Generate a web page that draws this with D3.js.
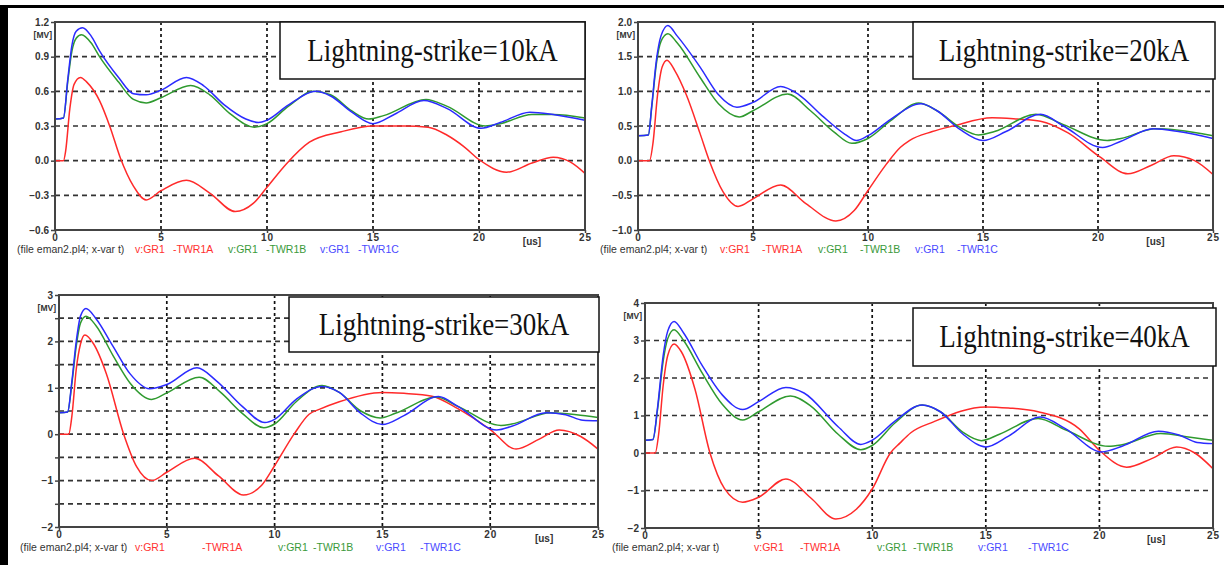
<!DOCTYPE html>
<html>
<head>
<meta charset="utf-8">
<script src="https://cdn.jsdelivr.net/npm/d3@7"></script>
<style>
  body { margin: 0; background: #fff; }
  svg { display: block; }
  .tick-label { font-family: "Liberation Sans", Arial, sans-serif; font-size: 10px; fill: #333; font-weight: bold; }
  .legend { font-family: "Liberation Sans", Arial, sans-serif; font-size: 10.5px; }
  .title { font-family: "Liberation Serif", "Times New Roman", serif; font-size: 27px; fill: #111; }
</style>
</head>
<body>
<svg id="chart" width="1224" height="565"></svg>
<script>
// time axis (us) and tick labels
const xTicks = [0, 5, 10, 15, 20, 25];
const titles = ["Lightning-strike=10kA", "Lightning-strike=20kA", "Lightning-strike=30kA", "Lightning-strike=40kA"];
const legendItems = ["(file eman2.pl4; x-var t)", "v:GR1", "-TWR1A", "v:GR1", "-TWR1B", "v:GR1", "-TWR1C"];

// y ticks per panel
const yTicks10 = [-0.6, -0.3, 0.0, 0.3, 0.6, 0.9, 1.2];
const yTicks20 = [-1.0, -0.5, 0.0, 0.5, 1.0, 1.5, 2.0];
const yTicks30 = [-2, -1, 0, 1, 2, 3];
const yTicks40 = [-2, -1, 0, 1, 2, 3, 4];

// [t (us), v (MV)]
const red10 = [[0,0],[0.4,0],[0.5,0.08],[0.7,0.45],[0.9,0.66],[1.2,0.72],[1.5,0.68],[2.1,0.52],[2.6,0.29],[3.07,0.03],[3.7,-0.22],[4.3,-0.34],[5,-0.26],[6.2,-0.17],[7.3,-0.28],[8.5,-0.44],[9.35,-0.37],[10,-0.23],[10.9,-0.03],[12,0.16],[13.5,0.25],[15,0.3],[16.5,0.3],[17.6,0.29],[18.5,0.22],[19.3,0.12],[20,0.01],[21.3,-0.1],[22.5,-0.02],[23.5,0.03],[24.3,-0.01],[25,-0.11]];
const green10 = [[0,0.36],[0.4,0.37],[0.6,0.68],[0.8,0.95],[1.0,1.06],[1.25,1.09],[1.7,1.02],[2.1,0.9],[3,0.68],[3.7,0.53],[4.3,0.5],[5,0.545],[6.4,0.65],[7.3,0.57],[8.3,0.4],[9.4,0.29],[10,0.32],[11,0.47],[12.2,0.6],[13,0.57],[14,0.43],[14.8,0.36],[15.5,0.39],[17.5,0.53],[18.5,0.47],[20.3,0.3],[21,0.32],[22.5,0.4],[23.5,0.4],[25,0.37]];
const blue10 = [[0,0.36],[0.4,0.37],[0.6,0.7],[0.8,1.0],[1.0,1.12],[1.3,1.15],[1.7,1.08],[2.1,0.95],[3,0.72],[3.7,0.58],[4.3,0.57],[5,0.61],[6.2,0.72],[7,0.65],[8,0.48],[9,0.36],[9.6,0.33],[10,0.35],[11,0.48],[12.3,0.6],[13,0.56],[14,0.42],[15,0.32],[16,0.4],[17.4,0.52],[18.5,0.45],[20.1,0.28],[21,0.33],[22.4,0.42],[23.5,0.4],[25,0.35]];

const red20 = [[0,0],[0.5,0],[0.65,0.25],[0.85,0.95],[1.05,1.35],[1.26,1.45],[1.6,1.3],[2.1,0.95],[2.7,0.39],[3.1,0],[3.7,-0.45],[4.35,-0.66],[5,-0.55],[6.2,-0.35],[7.3,-0.62],[8.6,-0.87],[9.4,-0.72],[10,-0.43],[10.8,-0.05],[11.4,0.19],[11.8,0.29],[12.8,0.42],[13.7,0.5],[15.4,0.62],[16.5,0.6],[17.5,0.57],[18.7,0.4],[20.1,0.05],[21.3,-0.19],[22.3,-0.07],[23.3,0.07],[24.2,0.0],[25,-0.2]];
const green20 = [[0,0.36],[0.45,0.37],[0.6,0.78],[0.8,1.4],[1.0,1.72],[1.3,1.83],[1.7,1.7],[2.7,1.2],[3.5,0.82],[4.4,0.63],[5,0.72],[6.5,0.96],[7.5,0.72],[8.5,0.42],[9.3,0.25],[10,0.32],[11,0.58],[12.2,0.83],[13,0.72],[14,0.48],[14.8,0.37],[15.5,0.42],[17.3,0.67],[18.5,0.52],[20.4,0.29],[21,0.32],[22.5,0.46],[23.5,0.44],[25,0.36]];
const blue20 = [[0,0.36],[0.45,0.37],[0.6,0.8],[0.8,1.45],[1.0,1.8],[1.3,1.95],[1.7,1.8],[2.7,1.35],[3.5,0.95],[4.3,0.77],[5,0.84],[6.2,1.07],[7,0.95],[8,0.65],[9,0.38],[9.5,0.29],[10,0.36],[11,0.6],[12.3,0.82],[13,0.72],[14,0.45],[15,0.29],[16,0.42],[17.5,0.67],[18.5,0.5],[20.2,0.19],[21,0.28],[22.4,0.46],[23.5,0.42],[25,0.32]];

const red30 = [[0,0],[0.45,0],[0.6,0.4],[0.8,1.4],[1.0,1.95],[1.2,2.14],[1.6,1.95],[2.2,1.3],[3.0,0],[3.6,-0.7],[4.3,-1.0],[5,-0.82],[6.3,-0.52],[7.4,-0.9],[8.55,-1.31],[9.4,-1.1],[10,-0.68],[10.9,0],[11.6,0.43],[12.1,0.54],[13,0.7],[15,0.9],[16,0.88],[17.3,0.82],[18.5,0.55],[20,0.1],[21.2,-0.32],[22.3,-0.1],[23.2,0.09],[24.2,-0.05],[25,-0.32]];
const green30 = [[0,0.46],[0.4,0.48],[0.6,1.1],[0.8,1.9],[1.0,2.4],[1.25,2.54],[1.7,2.35],[2.5,1.7],[3.3,1.1],[4.3,0.75],[5,0.89],[6.5,1.23],[7.5,0.9],[8.5,0.45],[9.5,0.14],[10,0.22],[11,0.7],[12.2,1.05],[13,0.9],[14,0.5],[14.9,0.35],[15.6,0.45],[17.5,0.8],[18.5,0.6],[20.5,0.19],[21,0.22],[22.8,0.46],[24,0.42],[25,0.36]];
const blue30 = [[0,0.46],[0.4,0.48],[0.6,1.15],[0.8,2.0],[1.0,2.55],[1.25,2.71],[1.7,2.5],[2.5,1.9],[3.3,1.3],[4.2,0.98],[5,1.07],[6.4,1.43],[7.3,1.15],[8.5,0.6],[9.55,0.25],[10,0.32],[11,0.75],[12.2,1.03],[13,0.9],[14,0.45],[15,0.21],[16,0.4],[17.6,0.81],[18.5,0.6],[20.3,0.09],[21,0.17],[22.6,0.46],[23.5,0.42],[24.3,0.3],[25,0.29]];

const red40 = [[0,0],[0.45,0],[0.6,0.5],[0.8,1.8],[1.0,2.6],[1.28,2.91],[1.6,2.7],[2.2,1.7],[2.86,0],[3.5,-0.95],[4.3,-1.31],[5,-1.18],[6.2,-0.69],[7.3,-1.2],[8.4,-1.76],[9.3,-1.5],[10,-0.96],[10.8,0],[11.23,0.27],[11.7,0.54],[12.7,0.83],[15,1.23],[16,1.2],[17.3,1.1],[19.1,0.65],[20,0.07],[21.2,-0.38],[22.3,-0.15],[23.4,0.16],[24.2,0],[25,-0.42]];
const green40 = [[0,0.34],[0.35,0.36],[0.55,1.15],[0.8,2.45],[1.0,3.05],[1.28,3.29],[1.7,3.0],[2.5,2.15],[3.4,1.3],[4.3,0.88],[5,1.1],[6.4,1.52],[7.3,1.25],[8.5,0.5],[9.5,0.09],[10,0.2],[11,0.8],[12.2,1.28],[13,1.1],[14,0.55],[14.8,0.33],[15.6,0.5],[17.3,0.92],[18.5,0.62],[20.4,0.18],[21,0.22],[22.7,0.52],[24,0.42],[25,0.34]];
const blue40 = [[0,0.34],[0.35,0.36],[0.55,1.2],[0.8,2.6],[1.0,3.25],[1.28,3.51],[1.7,3.2],[2.5,2.35],[3.4,1.55],[4.3,1.16],[5,1.37],[6.2,1.75],[7,1.6],[8.5,0.7],[9.5,0.23],[10,0.34],[11,0.85],[12.2,1.28],[13,1.1],[14,0.5],[15,0.16],[16,0.45],[17.4,0.96],[18.5,0.65],[20.1,0.03],[21,0.18],[22.6,0.58],[23.5,0.48],[24.3,0.28],[25,0.25]];

const colors = { red: "#ff2a2a", green: "#2f9a2f", blue: "#2b2bff" };
const legendColors = ["#333", "#ff3030", "#ff3030", "#3a9a3a", "#3a9a3a", "#4a4aff", "#4a4aff"];

// layout of each panel (pixels)
const panels = [
  { left: 55, right: 585, top: 22, bottom: 230, yTicks: yTicks10, grid: yTicks10, fmt: ".1f",
    box: [280, 22, 305, 57], legendY: 253, legendX: [17, 135, 173, 228, 266, 320, 358],
    series: [red10, green10, blue10] },
  { left: 638, right: 1213, top: 22, bottom: 230, yTicks: yTicks20, grid: yTicks20, fmt: ".1f",
    box: [913, 22, 302, 57], legendY: 253, legendX: [600, 720, 762, 818, 860, 915, 957],
    series: [red20, green20, blue20] },
  { left: 59, right: 598, top: 295, bottom: 527, yTicks: yTicks30, grid: d3.range(-2, 3.01, 0.5), fmt: "d",
    box: [289, 297, 310, 55], legendY: 551, legendX: [20, 135, 202, 278, 313, 376, 420],
    series: [red30, green30, blue30] },
  { left: 645, right: 1213, top: 303, bottom: 528, yTicks: yTicks40, grid: yTicks40, fmt: "d",
    box: [913, 308, 303, 58], legendY: 551, legendX: [612, 754, 800, 877, 913, 978, 1028],
    series: [red40, green40, blue40] }
];

const svg = d3.select("#chart");

// outer frame
svg.append("rect").attr("x", 0).attr("y", 5).attr("width", 8).attr("height", 560).attr("fill", "#000");
svg.append("rect").attr("x", 0).attr("y", 5).attr("width", 1224).attr("height", 3).attr("fill", "#000");

panels.forEach((p, i) => {
  const x = d3.scaleLinear().domain([0, 25]).range([p.left, p.right]);
  const yDom = d3.extent(p.grid);
  const y = d3.scaleLinear().domain(yDom).range([p.bottom, p.top]);
  const g = svg.append("g");

  // horizontal dashed grid
  g.selectAll(".hgrid")
    .data(p.grid.filter(v => v > yDom[0] + 1e-6 && v < yDom[1] - 1e-6))
    .enter().append("line")
    .attr("x1", p.left).attr("x2", p.right)
    .attr("y1", d => y(d)).attr("y2", d => y(d))
    .attr("stroke", "#333").attr("stroke-width", 1.7).attr("stroke-dasharray", "5,4");

  // vertical dotted grid
  g.selectAll(".vgrid")
    .data(xTicks.slice(1, -1))
    .enter().append("line")
    .attr("x1", d => x(d)).attr("x2", d => x(d))
    .attr("y1", p.top).attr("y2", p.bottom)
    .attr("stroke", "#111").attr("stroke-width", 1.7).attr("stroke-dasharray", "3,3");

  // curves
  const line = d3.line().x(d => x(d[0])).y(d => y(d[1])).curve(d3.curveMonotoneX);
  const keys = ["red", "green", "blue"];
  p.series.forEach((s, k) => {
    g.append("path").datum(s)
      .attr("d", line)
      .attr("fill", "none")
      .attr("stroke", colors[keys[k]])
      .attr("stroke-width", 1.5);
  });

  // plot frame
  g.append("rect")
    .attr("x", p.left).attr("y", p.top)
    .attr("width", p.right - p.left).attr("height", p.bottom - p.top)
    .attr("fill", "none").attr("stroke", "#444").attr("stroke-width", 2);

  // axes
  const fmt = d3.format(p.fmt);
  const yAxis = d3.axisLeft(y).tickValues(p.grid).tickSize(4)
    .tickFormat(d => p.yTicks.some(v => Math.abs(v - d) < 1e-6) ? fmt(d) : "");
  const ya = g.append("g").attr("transform", `translate(${p.left},0)`).call(yAxis);
  const xAxis = d3.axisBottom(x).tickValues(xTicks).tickSize(3).tickFormat(d3.format("d"));
  const xa = g.append("g").attr("transform", `translate(0,${p.bottom})`).call(xAxis);
  [ya, xa].forEach(a => {
    a.select(".domain").remove();
    a.selectAll(".tick line").attr("stroke", "#444").attr("stroke-width", 1.5);
    a.selectAll("text").attr("class", "tick-label").attr("fill", null);
  });
  ya.selectAll("text").attr("x", -6);
  xa.selectAll("text").attr("dy", "0.5em").attr("letter-spacing", "1px");

  // unit labels
  g.append("text").attr("class", "tick-label")
    .attr("x", p.left - 3).attr("y", p.top + 16).attr("text-anchor", "end")
    .style("font-size", "8.5px").text("[MV]");
  g.append("text").attr("class", "tick-label")
    .attr("x", x(22.5)).attr("y", p.bottom + 15).attr("text-anchor", "middle")
    .text("[us]");

  // legend line
  legendItems.forEach((t, j) => {
    g.append("text").attr("class", "legend")
      .attr("x", p.legendX[j]).attr("y", p.legendY)
      .attr("fill", legendColors[j]).text(t);
  });

  // title box
  const [bx, by, bw, bh] = p.box;
  g.append("rect").attr("x", bx).attr("y", by).attr("width", bw).attr("height", bh)
    .attr("fill", "#fff").attr("stroke", "#111").attr("stroke-width", 1.5);
  g.append("text").attr("class", "title")
    .attr("transform", `translate(${bx + bw / 2},${by + bh / 2 + 10}) scale(1,1.2)`)
    .attr("text-anchor", "middle").text(titles[i]);
});
</script>
</body>
</html>
